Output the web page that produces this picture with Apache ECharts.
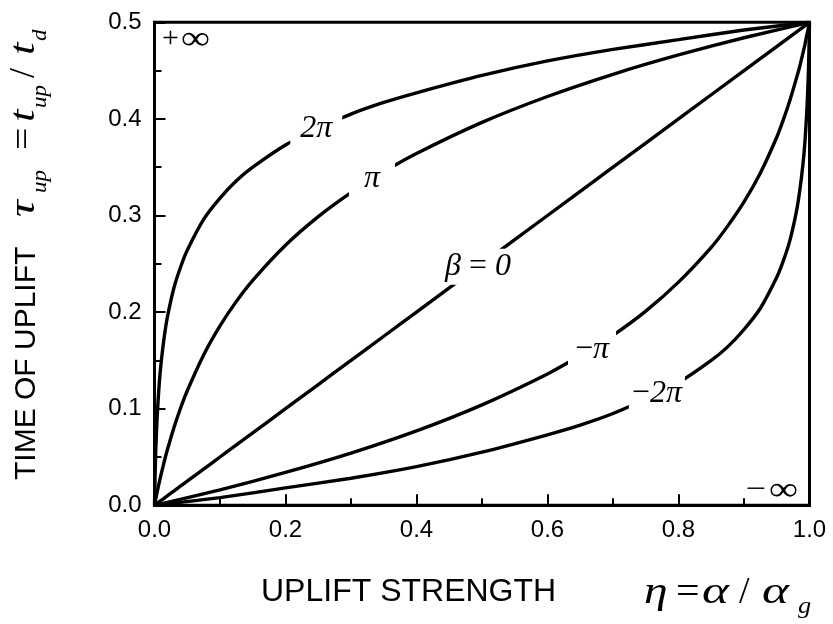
<!DOCTYPE html>
<html>
<head>
<meta charset="utf-8">
<script src="https://cdn.jsdelivr.net/npm/echarts@6/dist/echarts.min.js"></script>
<style>
  html, body { margin: 0; padding: 0; background: #fff; }
  #chart { width: 833px; height: 624px; }
</style>
</head>
<body>
<div id="chart"></div>
<script>
// Uplift strength eta (x) for the curves with beta >= 0
const etaPos = [0, 0.001, 0.002, 0.004, 0.007, 0.01, 0.015, 0.02, 0.03, 0.04, 0.05, 0.075, 0.1,
                0.125, 0.15, 0.2, 0.25, 0.3, 0.35, 0.4, 0.5, 0.6, 0.7, 0.8, 0.9, 1.0];
// Time of uplift tau_up for beta = 2*pi
const tauTwoPi = [0, 0.034, 0.058, 0.091, 0.124, 0.147, 0.175, 0.196, 0.226, 0.247, 0.264, 0.296, 0.318,
                  0.336, 0.350, 0.373, 0.390, 0.405, 0.417, 0.427, 0.445, 0.460, 0.472, 0.482, 0.492, 0.5];
// beta = pi
const tauPi = [0, 0.0035, 0.0069, 0.0135, 0.0229, 0.0318, 0.0456, 0.0583, 0.0811, 0.101, 0.1186, 0.1557, 0.1858,
               0.2111, 0.2329, 0.2692, 0.2988, 0.3237, 0.3452, 0.3642, 0.3964, 0.4232, 0.4462, 0.4662, 0.484, 0.5];
// beta = 0
const tauZero = [0, 0.0005, 0.001, 0.002, 0.0035, 0.005, 0.0075, 0.01, 0.015, 0.02, 0.025, 0.0375, 0.05,
                 0.0625, 0.075, 0.1, 0.125, 0.15, 0.175, 0.2, 0.25, 0.3, 0.35, 0.4, 0.45, 0.5];

// Uplift strength eta for the curves with beta < 0
const etaNeg = [0, 0.1, 0.2, 0.3, 0.4, 0.5, 0.6, 0.65, 0.7, 0.75, 0.8, 0.85, 0.875, 0.9, 0.925, 0.95,
                0.96, 0.97, 0.98, 0.985, 0.99, 0.993, 0.996, 0.998, 0.999, 1.0];
// beta = -pi
const tauMinusPi = [0, 0.016, 0.034, 0.054, 0.077, 0.104, 0.136, 0.155, 0.176, 0.201, 0.231, 0.267, 0.289, 0.314,
                    0.344, 0.381, 0.399, 0.419, 0.442, 0.454, 0.468, 0.477, 0.487, 0.493, 0.497, 0.5];
// beta = -2*pi
const tauMinusTwoPi = [0, 0.008, 0.018, 0.028, 0.040, 0.055, 0.073, 0.083, 0.095, 0.110, 0.127, 0.150, 0.164, 0.182,
                       0.204, 0.236, 0.253, 0.274, 0.304, 0.325, 0.353, 0.376, 0.409, 0.442, 0.466, 0.5];

// Curve labels and where they sit on their curves
const curveLabels = ['2π', 'π', 'β = 0', '−π', '−2π'];
const curveLabelEta = [0.247, 0.332, 0.494, 0.668, 0.767];
const curveLabelTau = [0.390, 0.338, 0.247, 0.161, 0.1155];

// Axis ranges and tick steps
const xRange = [0, 1];
const yRange = [0, 0.5];
const xStep = 0.2;
const yStep = 0.1;

const SANS = 'Liberation Sans';
const SERIF = 'Liberation Serif';

// white boxes behind the curve labels open a gap in each curve
const labelBoxPadding = [[3, 10, 3, 10], [9, 15, 9, 15], [2, 2, 2, 2], [7, 7, 7, 7], [6, 3, 6, 3]];
const labelRich = ['{i|2π}', '{i|π}', '{i|β}{u| = }{i|0}', '{u|−}{i|π}', '{u|−}{i|2π}'];

function curve(name, xs, ys) {
  return {
    type: 'line',
    name: name,
    data: xs.map((x, i) => [x, ys[i]]),
    symbol: 'none',
    showSymbol: false,
    smooth: 0.2,
    clip: true,
    z: 2,
    silent: true,
    lineStyle: { color: '#000', width: 3.4 }
  };
}

const chart = echarts.init(document.getElementById('chart'), null, { renderer: 'canvas' });

const axisCommon = {
  type: 'value',
  axisLine: { show: true, onZero: false, lineStyle: { color: '#000', width: 3 } },
  axisTick: { show: true, inside: true, length: 11, lineStyle: { color: '#000', width: 2 } },
  minorTick: { show: true, splitNumber: 2, length: 7, lineStyle: { color: '#000', width: 2 } },
  splitLine: { show: false },
  axisLabel: {
    color: '#000', fontFamily: SANS, fontSize: 24, margin: 13,
    formatter: v => v.toFixed(1)
  }
};

// math glyphs drawn a little wider, like a symbol font
function mathText(x, y, text, size, italic, sx) {
  return {
    type: 'text', x: x, y: y, scaleX: sx || 1,
    style: {
      text: text, fill: '#000', verticalAlign: 'middle',
      font: (italic ? 'italic ' : '') + size + 'px "Liberation Serif"'
    }
  };
}

chart.setOption({
  animation: false,
  backgroundColor: '#fff',
  grid: {
    left: 154.5, right: 23.5, top: 22.3, bottom: 118.7,
    show: true, borderColor: '#000', borderWidth: 3, backgroundColor: 'transparent'
  },
  xAxis: Object.assign({}, axisCommon, { min: xRange[0], max: xRange[1], interval: xStep }),
  yAxis: Object.assign({}, axisCommon, { min: yRange[0], max: yRange[1], interval: yStep }),
  series: [
    curve('2π', etaPos, tauTwoPi),
    curve('π', etaPos, tauPi),
    curve('β = 0', etaPos, tauZero),
    curve('−π', etaNeg, tauMinusPi),
    curve('−2π', etaNeg, tauMinusTwoPi),
    {
      type: 'scatter',
      name: 'labels',
      symbolSize: 0,
      z: 5,
      silent: true,
      itemStyle: { opacity: 1 },
      emphasis: { disabled: true },
      data: curveLabels.map((t, i) => ({
        value: [curveLabelEta[i], curveLabelTau[i]],
        label: { padding: labelBoxPadding[i], formatter: labelRich[i] }
      })),
      label: {
        show: true,
        position: 'inside',
        backgroundColor: '#fff',
        color: '#000',
        rich: {
          i: { fontFamily: SERIF, fontStyle: 'italic', fontSize: 32, color: '#000' },
          u: { fontFamily: SERIF, fontSize: 32, color: '#000' }
        }
      }
    }
  ],
  graphic: [
    // limit markers inside the frame
    mathText(162, 39, '+', 30, false, 1),
    mathText(181, 40, '∞', 34, false, 1.2),
    mathText(746, 490, '−', 30, false, 1.2),
    mathText(769, 491, '∞', 34, false, 1.2),
    // x axis title
    { type: 'text', x: 261, y: 592.5, style: { text: 'UPLIFT STRENGTH', fill: '#000', font: '32px "Liberation Sans"', verticalAlign: 'middle' } },
    mathText(644, 593, 'η', 38, true, 1.25),
    mathText(676, 593, '=', 38, false, 1.1),
    mathText(702, 593, 'α', 38, true, 1.35),
    mathText(739, 593, '/', 38, false, 1),
    mathText(762, 593, 'α', 38, true, 1.35),
    mathText(798, 607, 'g', 24, true, 1.1),
    // y axis title, reading upward
    {
      type: 'group', x: 37, y: 480, rotation: Math.PI / 2,
      children: [
        { type: 'text', x: 0, y: -10.4, style: { text: 'TIME OF UPLIFT', fill: '#000', font: '30px "Liberation Sans"', verticalAlign: 'middle' } },
        mathText(263, -12, 'τ', 36, true, 1.3),
        mathText(287, 3.5, 'up', 21, true, 1.1),
        mathText(330, -12, '=', 36, false, 1.1),
        mathText(358, -12, 't', 36, true, 1.25),
        mathText(372, 3.5, 'up', 21, true, 1.1),
        mathText(402, -12, '/', 36, false, 1),
        mathText(425, -12, 't', 36, true, 1.25),
        mathText(439, 3.5, 'd', 21, true, 1.1)
      ]
    }
  ]
});
</script>
</body>
</html>
